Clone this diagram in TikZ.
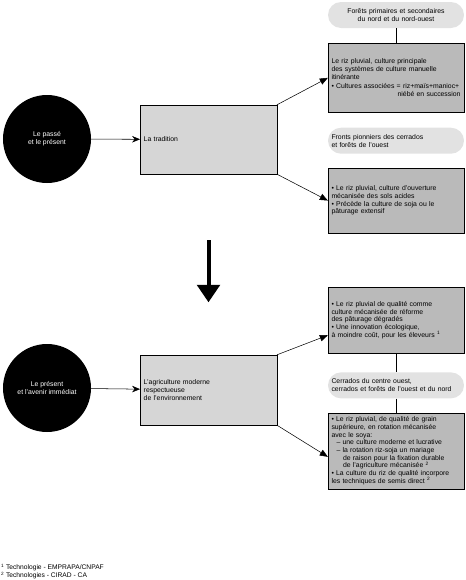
\documentclass[tikz,border=0pt]{standalone}
\usepackage{fontspec}
\setmainfont{Liberation Sans}
\usepackage{tikz}
\usetikzlibrary{positioning,arrows.meta,calc}
\definecolor{BoxGray}{RGB}{186,186,186}
\definecolor{PaleGray}{RGB}{214,214,214}
\definecolor{ZoneGray}{RGB}{226,226,226}
\tikzset{
  era/.style={circle, fill=black, text=white, align=center, minimum size=35.2mm,
    inner sep=0pt, font=\fontsize{7.8}{8.8}\selectfont},
  theme/.style={rectangle, draw=black, fill=PaleGray, align=left, text width=51.8mm,
    inner xsep=1.4mm, font=\fontsize{7.8}{8.8}\selectfont},
  rice/.style={rectangle, draw=black, fill=BoxGray, align=left, text width=51.6mm,
    inner xsep=1.4mm, font=\fontsize{7.8}{8.8}\selectfont},
  zone/.style={rectangle, rounded corners=5.2mm, fill=ZoneGray, text width=51.6mm,
    inner xsep=1.4mm, minimum height=10.4mm, font=\fontsize{7.8}{8.8}\selectfont},
  arrow/.style={-{Stealth[length=3.2mm,width=2.6mm]}, semithick},
  link/.style={-{Triangle[length=3.2mm,width=2.6mm]}, semithick},
  bigarrow/.style={-{Triangle[length=7mm,width=9mm]}, line width=1.6mm}
}
\begin{document}
\begin{tikzpicture}[x=0.4mm, y=-0.4mm]
  \useasboundingbox (0,0) rectangle (465,580);
  % left column
  \node[era] (past) at (47,139) {Le passé\\et le présent};
  \node[theme, minimum height=27.6mm] (tradition) at (208.5,139.5) {La tradition};
  \node[era] (present) at (47,388) {Le présent\\et l'avenir immédiat};
  \node[theme, minimum height=28mm] (modern) at (208.5,390)
    {L'agriculture moderne\\respectueuse\\de l'environnement};
  % right column, upper half
  \node[zone, align=center] (forestzone) at (396,15)
    {Forêts primaires et secondaires\\du nord et du nord-ouest};
  \node[rice, minimum height=27.6mm, below=6mm of forestzone] (ricebox1)
    {Le riz pluvial, culture principale\\des systèmes de culture manuelle\\itinérante\\[2pt]
     • Cultures associées = riz+maïs+manioc+\\\hspace*{\fill}niébé en succession};
  \node[zone, align=left, below=6mm of ricebox1] (frontzone)
    {Fronts pionniers des cerrados\\et forêts de l'ouest};
  \node[rice, minimum height=26mm, below=5.6mm of frontzone] (ricebox2)
    {• Le riz pluvial, culture d'ouverture\\mécanisée des sols acides\\
     • Précède la culture de soja ou le\\pâturage extensif};
  % right column, lower half
  \node[rice, minimum height=26.4mm] (ricebox3) at (396,320)
    {• Le riz pluvial de qualité comme\\culture mécanisée de réforme\\des pâturage dégradés\\
     • Une innovation écologique,\\à moindre coût, pour les éleveurs \textsuperscript{1}};
  \node[zone, align=left, below=7.6mm of ricebox3] (cerrzone)
    {Cerrados du centre ouest,\\cerrados et forêts de l'ouest et du nord};
  \node[rice, minimum height=30.4mm, below=5.6mm of cerrzone] (ricebox4)
    {• Le riz pluvial, de qualité de grain\\supérieure, en rotation mécanisée\\avec le soya:\\
     \hspace*{2mm}– une culture moderne et lucrative\\
     \hspace*{2mm}– la rotation riz-soja un mariage\\
     \hspace*{4.6mm}de raison pour la fixation durable\\
     \hspace*{4.6mm}de l'agriculture mécanisée \textsuperscript{2}\\
     • La culture du riz de qualité incorpore\\les techniques de semis direct \textsuperscript{2}};
  % footnotes
  \node[anchor=north west, align=left, inner sep=0pt, font=\fontsize{7.6}{9}\selectfont] (notes) at (1,564)
    {\textsuperscript{1} Technologie - EMPRAPA/CNPAF\\\textsuperscript{2} Technologies - CIRAD - CA};
  % connectors
  \draw[arrow] (past) -- (tradition);
  \draw[arrow] (present) -- (modern);
  \draw[link] (tradition.north east) -- (ricebox1.west);
  \draw[link] (tradition.south east) -- (ricebox2.west);
  \draw[link] (modern.north east) -- ($(ricebox3.south west)!0.27!(ricebox3.north west)$);
  \draw[link] (modern.south east) -- ($(ricebox4.south west)!0.42!(ricebox4.north west)$);
  \draw (forestzone) -- (ricebox1);
  \draw (ricebox3) -- (cerrzone) -- (ricebox4);
  \draw[bigarrow, shorten <=26.4mm, shorten >=21mm] (tradition.south) -- (modern.north);
\end{tikzpicture}
\end{document}
